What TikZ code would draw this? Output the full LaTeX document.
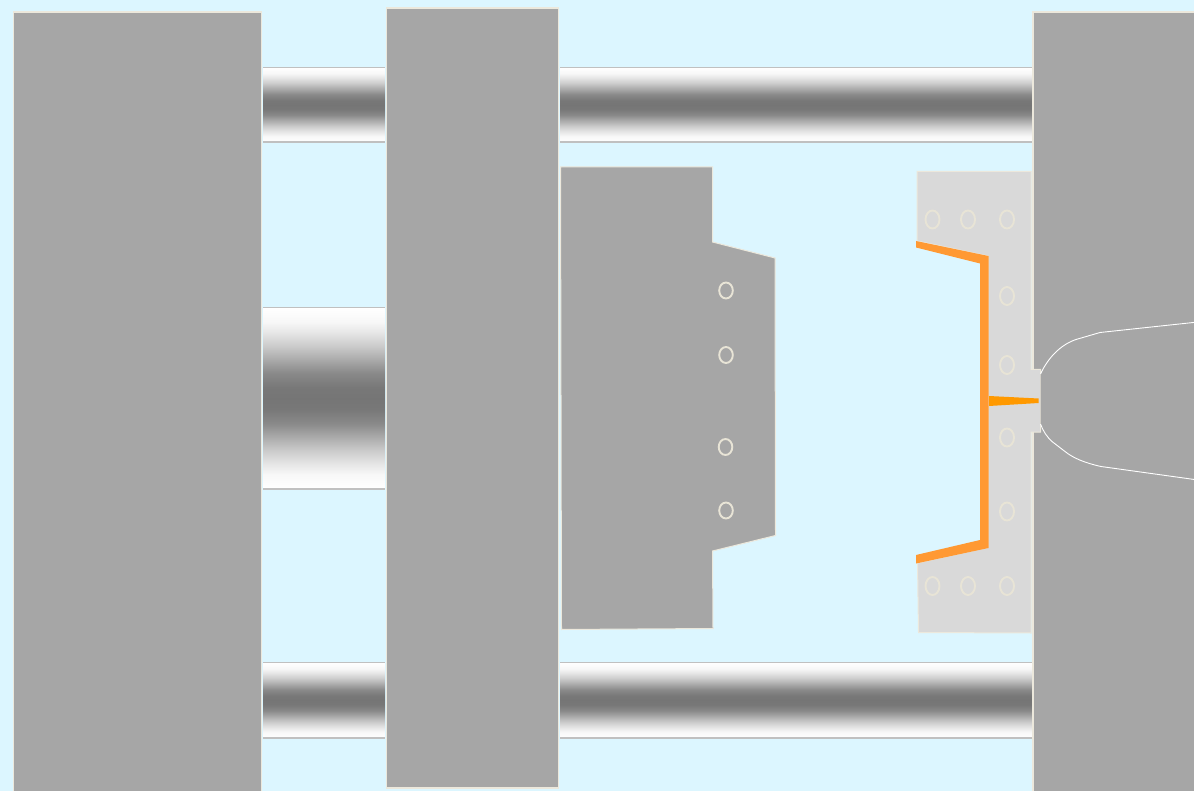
\documentclass[tikz,border=0pt]{standalone}
\definecolor{bgblue}{RGB}{220,246,255}
\definecolor{plate}{RGB}{166,166,166}
\definecolor{lightplate}{RGB}{217,217,217}
\definecolor{edge}{RGB}{236,232,220}
\definecolor{holeedge}{RGB}{232,228,214}
\definecolor{rodedge}{RGB}{192,192,192}
\definecolor{partorange}{RGB}{255,153,51}
\definecolor{sprue}{RGB}{255,153,0}
\pgfdeclareverticalshading{rodshade}{100bp}{
  color(0bp)=(white);
  color(25bp)=(white);
  color(29bp)=(white!97!black);
  color(32bp)=(white!90!black);
  color(35.5bp)=(white!80!black);
  color(39bp)=(white!68!black);
  color(43bp)=(white!54!black);
  color(47bp)=(white!47!black);
  color(50bp)=(white!46!black);
  color(53bp)=(white!47!black);
  color(57bp)=(white!54!black);
  color(61bp)=(white!68!black);
  color(64.5bp)=(white!80!black);
  color(68bp)=(white!90!black);
  color(71bp)=(white!97!black);
  color(75bp)=(white);
  color(100bp)=(white)}
\tikzset{
  plateshape/.style={fill=plate,draw=edge,line width=1.2pt,line join=miter},
  rightplate/.style={fill=plate,draw=edge,line width=2pt,line join=miter},
  moldlight/.style={fill=lightplate,draw=edge,line width=1pt},
  rodbody/.style={shading=rodshade,shading angle=0},
  rodline/.style={draw=rodedge,line width=1.6pt},
  hole/.style={draw=holeedge,line width=1.9pt,fill=none},
}
\begin{document}
\begin{tikzpicture}[x=1pt,y=-1pt]
\useasboundingbox (0,0) rectangle (1194,791);
\fill[bgblue] (0,0) rectangle (1194,791);
% rods
\foreach \xa/\xb/\ya/\yb in {263/385/67.5/142, 560/1033/67.5/142, 263/385/307.5/489, 263/385/662.5/738, 560/1033/662.5/738}{
  \path[rodbody] (\xa,\ya) rectangle (\xb,\yb);
  \draw[rodline] (\xa,\ya) -- (\xb,\ya) (\xa,\yb) -- (\xb,\yb);
}
% plates
\draw[plateshape] (13.5,12) rectangle (261.5,795);
\draw[plateshape] (386.5,8) rectangle (558.5,788);
\draw[rightplate] (1033,12) rectangle (1198,795);
% moving mould half
\draw[fill=plate,draw=edge,line width=1pt] (560.5,167) -- (712.5,167) -- (712.5,242) -- (775,258) -- (775.5,535.5) -- (712.5,551) -- (713,628.5) -- (561.5,629.5) -- cycle;
\foreach \x/\y in {726/290.5,726/355,725.5/447,726/510.5}
  \draw[hole] (\x,\y) ellipse [x radius=6.8,y radius=8];
% fixed mould half
\draw[moldlight] (917,171.5) -- (1031,171.5) -- (1031,369.5) -- (1040.5,369.5) -- (1040.5,432) -- (1031,432) -- (1031,633) -- (918.5,632.5) -- (917.5,563) -- (988,547.5) -- (988,256) -- (917,241) -- cycle;
\foreach \x/\y in {932.5/219.5,968/219.5,1007/219.5,1007/296,1007/365,1007/437.5,1007/511.5,932.5/586,968/586,1007/586}
  \draw[hole] (\x,\y) ellipse [x radius=7,y radius=9];
% moulded part
\fill[partorange] (916,241) -- (988.5,256) -- (988.5,548) -- (916,563.5) -- (916,555) -- (980,540) -- (980,263.5) -- (916,247.5) -- cycle;
\fill[sprue] (989,396) -- (1038.5,398.5) -- (1038.5,403) -- (989,406) -- cycle;
% nozzle
\fill[plate] (1040.5,374) .. controls (1048,358) and (1060,345) .. (1076,339.5) -- (1100,332.5) -- (1198,322) -- (1198,480) -- (1101,466.5) .. controls (1085,463) and (1073,458) .. (1065,451.5) -- (1052,441.5) .. controls (1047,437) and (1043,431) .. (1040.5,424) -- cycle;
\draw[white,line width=0.9pt] (1040.5,374) .. controls (1048,358) and (1060,345) .. (1076,339.5) -- (1100,332.5) -- (1198,322);
\draw[white,line width=0.9pt] (1198,480) -- (1101,466.5) .. controls (1085,463) and (1073,458) .. (1065,451.5) -- (1052,441.5) .. controls (1047,437) and (1043,431) .. (1040.5,424);
\end{tikzpicture}
\end{document}
